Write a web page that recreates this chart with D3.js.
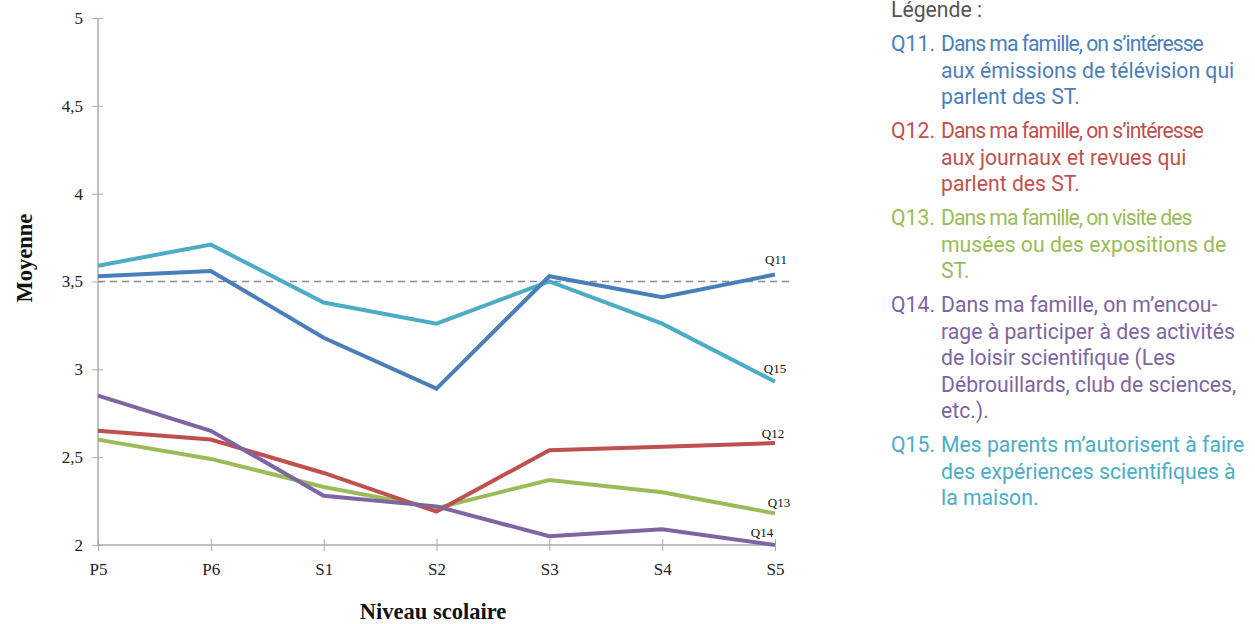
<!DOCTYPE html>
<html><head><meta charset="utf-8">
<script src="https://cdn.jsdelivr.net/npm/d3@7"></script>
<style>body{margin:0;background:#fff}svg{display:block}</style>
</head><body>
<svg id="c" width="1255" height="624"></svg>
<script>
const categories = ["P5","P6","S1","S2","S3","S4","S5"];
const seriesNames = ["Q11","Q12","Q13","Q14","Q15"];
const q11 = [3.53,3.56,3.18,2.89,3.53,3.41,3.54];
const q12 = [2.65,2.60,2.41,2.19,2.54,2.56,2.58];
const q13 = [2.60,2.49,2.33,2.21,2.37,2.30,2.18];
const q14 = [2.85,2.65,2.28,2.22,2.05,2.09,2.00];
const q15 = [3.59,3.71,3.38,3.26,3.50,3.26,2.93];
const yTicks = [2,2.5,3,3.5,4,4.5,5];
const refValue = 3.5;
const legendTitle = "Légende :";
const legendItems = [
  ["Q11.", ["Dans ma famille, on s’intéresse","aux émissions de télévision qui","parlent des ST."]],
  ["Q12.", ["Dans ma famille, on s’intéresse","aux journaux et revues qui","parlent des ST."]],
  ["Q13.", ["Dans ma famille, on visite des","musées ou des expositions de","ST."]],
  ["Q14.", ["Dans ma famille, on m’encou-","rage à participer à des activités","de loisir scientifique (Les","Débrouillards, club de sciences,","etc.)."]],
  ["Q15.", ["Mes parents m’autorisent à faire","des expériences scientifiques à","la maison."]]
];
const values = [q11,q12,q13,q14,q15];

// styles
const colors = {Q11:"#4a7ebb",Q12:"#c0504d",Q13:"#9bbb59",Q14:"#8064a2",Q15:"#4bacc6"};
const labelOffsets = {Q11:[1,-10],Q12:[-2,-5],Q13:[4,-6],Q14:[-13,-8],Q15:[0,-9]};
const firstLineSpacing = [-1,-1,-1,0,0];

const svg = d3.select("#c");
const x = d3.scalePoint().domain(categories).range([98,775]);
const y = d3.scaleLinear().domain([2,5]).range([545,18]);
const axisColor = "#ababab";
const serif = "'Liberation Serif','Times New Roman',serif";

// y axis
const ya = svg.append("g").attr("transform","translate(98,0)")
  .call(d3.axisLeft(y).tickValues(yTicks).tickSize(6).tickPadding(9)
    .tickFormat(d=>d3.format(".1~f")(d).replace(".",",")));
ya.select(".domain").attr("stroke",axisColor).attr("stroke-width",1.5).attr("d","M0,18V545");
ya.selectAll(".tick line").attr("stroke",axisColor).attr("x1",5).attr("x2",-6);
ya.selectAll(".tick text").attr("font-family",serif).attr("font-size",17).attr("fill","#222");

// x axis
const xa = svg.append("g").attr("transform","translate(0,545)")
  .call(d3.axisBottom(x).tickSize(6).tickPadding(12));
xa.select(".domain").attr("stroke",axisColor).attr("stroke-width",1.5).attr("d","M98,0H775");
xa.selectAll(".tick line").attr("stroke",axisColor).attr("y1",-6).attr("y2",6);
xa.selectAll(".tick text").attr("font-family",serif).attr("font-size",17).attr("fill","#222");

// reference line
svg.append("line").attr("x1",98).attr("x2",792).attr("y1",y(refValue)).attr("y2",y(refValue))
  .attr("stroke","#8a8a8a").attr("stroke-width",1.5).attr("stroke-dasharray","7,5");

const line = d3.line().x((d,i)=>x(categories[i])).y(d=>y(d));
const order = ["Q13","Q12","Q14","Q15","Q11"];
order.forEach(name=>{
  const vals = values[seriesNames.indexOf(name)];
  svg.append("path").datum(vals).attr("d",line).attr("fill","none")
    .attr("stroke",colors[name]).attr("stroke-width",4).attr("stroke-linejoin","miter");
});
seriesNames.forEach((name,k)=>{
  const vals = values[k];
  const off = labelOffsets[name];
  svg.append("text").attr("x",x("S5")+off[0]).attr("y",y(vals[6])+off[1])
    .attr("text-anchor","middle").attr("font-family",serif).attr("font-size",13).attr("fill","#111").text(name);
});

// axis titles
svg.append("text").attr("transform","translate(32,258) rotate(-90)").attr("text-anchor","middle")
  .attr("font-family",serif).attr("font-weight","bold").attr("font-size",22.5).attr("fill","#111").text("Moyenne");
svg.append("text").attr("x",433).attr("y",619).attr("text-anchor","middle")
  .attr("font-family",serif).attr("font-weight","bold").attr("font-size",22.5).attr("fill","#111").text("Niveau scolaire");

// legend
const lg = svg.append("g").attr("font-family","Roboto,sans-serif").attr("font-size",21.2);
lg.append("text").attr("x",891).attr("y",17).attr("fill","#555").text(legendTitle);
let yy = 51;
const lh = 26.5, gap = 7.5;
legendItems.forEach((it,k)=>{
  const c = colors[seriesNames[k]];
  lg.append("text").attr("x",891).attr("y",yy).attr("fill",c).text(it[0]);
  it[1].forEach((t,j)=>{
    lg.append("text").attr("x",941).attr("y",yy+j*lh).attr("fill",c)
      .attr("letter-spacing", j===0 ? firstLineSpacing[k] : 0).text(t);
  });
  yy += it[1].length*lh + gap;
});
</script>
</body></html>
